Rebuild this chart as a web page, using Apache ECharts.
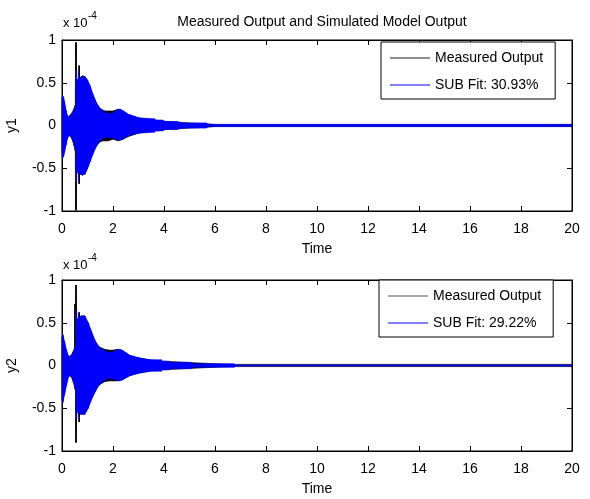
<!DOCTYPE html>
<html>
<head>
<meta charset="utf-8">
<script src="https://cdn.jsdelivr.net/npm/echarts@6/dist/echarts.min.js"></script>
<style>html,body{margin:0;padding:0;background:#fff;}#c{width:590px;height:499px;}</style>
</head>
<body>
<div id="c"></div>
<script>
// ---- data (values in units of 1e-4) ----
const xTicks = [0, 2, 4, 6, 8, 10, 12, 14, 16, 18, 20];
const yTicks = [-1, -0.5, 0, 0.5, 1];
const legend1 = ['Measured Output', 'SUB Fit: 30.93%'];
const legend2 = ['Measured Output', 'SUB Fit: 29.22%'];

// Plot 1: measured output envelope
const t1Meas = [0, 0.02, 0.06, 0.10, 0.15, 0.20, 0.26, 0.32, 0.40, 0.48, 0.52, 0.535, 0.56, 0.575, 0.62, 0.655, 0.665, 0.68, 0.69, 0.80, 0.90, 1.00, 1.10, 1.20, 1.30, 1.40, 1.50, 1.60, 1.70, 1.80, 1.90, 2.00, 2.10, 2.20, 2.40, 2.60, 2.80, 3.00, 3.50, 4.00, 4.50, 5.00, 5.70, 6.00, 20];
const y1MeasUp = [0.30, 0.35, 0.33, 0.26, 0.18, 0.12, 0.10, 0.12, 0.15, 0.20, 0.24, 0.97, 0.97, 0.50, 0.54, 0.55, 0.70, 0.70, 0.55, 0.58, 0.57, 0.53, 0.46, 0.37, 0.30, 0.24, 0.20, 0.18, 0.17, 0.17, 0.17, 0.17, 0.18, 0.19, 0.17, 0.13, 0.11, 0.09, 0.07, 0.05, 0.04, 0.03, 0.02, 0.012, 0.012];
const y1MeasLo = [-0.30, -0.38, -0.36, -0.30, -0.23, -0.16, -0.12, -0.12, -0.16, -0.24, -0.30, -0.99, -0.99, -0.52, -0.55, -0.56, -0.68, -0.68, -0.56, -0.58, -0.57, -0.50, -0.42, -0.34, -0.27, -0.22, -0.19, -0.18, -0.18, -0.18, -0.17, -0.16, -0.17, -0.18, -0.16, -0.13, -0.11, -0.09, -0.07, -0.05, -0.04, -0.03, -0.02, -0.012, -0.012];
// Plot 1: simulated model (SUB) envelope
const t1Sim = [0, 0.02, 0.06, 0.10, 0.15, 0.20, 0.26, 0.32, 0.40, 0.48, 0.53, 0.54, 0.565, 0.58, 0.62, 0.70, 0.80, 0.90, 1.00, 1.10, 1.20, 1.30, 1.40, 1.50, 1.60, 1.70, 1.80, 1.90, 2.00, 2.10, 2.20, 2.30, 2.40, 2.50, 2.60, 2.70, 2.80, 3.00, 3.20, 3.63, 3.64, 3.96, 3.97, 4.55, 4.56, 5.66, 5.67, 20];
const y1SimUp = [0.30, 0.35, 0.33, 0.26, 0.18, 0.12, 0.10, 0.12, 0.15, 0.20, 0.24, 0.64, 0.64, 0.50, 0.54, 0.56, 0.58, 0.57, 0.53, 0.46, 0.37, 0.29, 0.23, 0.19, 0.17, 0.15, 0.14, 0.14, 0.15, 0.17, 0.19, 0.19, 0.17, 0.15, 0.13, 0.12, 0.11, 0.09, 0.085, 0.078, 0.064, 0.064, 0.047, 0.047, 0.03, 0.03, 0.013, 0.013];
const y1SimLo = [-0.30, -0.38, -0.36, -0.30, -0.23, -0.16, -0.12, -0.12, -0.16, -0.24, -0.30, -0.66, -0.66, -0.50, -0.55, -0.57, -0.58, -0.56, -0.50, -0.42, -0.34, -0.27, -0.21, -0.17, -0.15, -0.14, -0.14, -0.14, -0.15, -0.16, -0.17, -0.17, -0.15, -0.13, -0.12, -0.11, -0.10, -0.09, -0.085, -0.078, -0.064, -0.064, -0.047, -0.047, -0.03, -0.03, -0.013, -0.013];

// Plot 2: measured output envelope
const t2Meas = [0, 0.03, 0.10, 0.17, 0.26, 0.37, 0.45, 0.49, 0.50, 0.51, 0.53, 0.54, 0.56, 0.575, 0.63, 0.655, 0.665, 0.68, 0.69, 0.75, 0.89, 1.02, 1.15, 1.28, 1.45, 1.67, 1.85, 2.00, 2.20, 2.35, 2.65, 3.00, 3.44, 4.00, 5.00, 6.00, 6.75, 20];
const y2MeasUp = [0.33, 0.36, 0.27, 0.18, 0.10, 0.12, 0.17, 0.20, 0.72, 0.22, 0.25, 0.94, 0.94, 0.50, 0.55, 0.55, 0.62, 0.62, 0.56, 0.58, 0.58, 0.50, 0.40, 0.30, 0.22, 0.19, 0.18, 0.18, 0.19, 0.18, 0.12, 0.09, 0.067, 0.05, 0.035, 0.02, 0.013, 0.013];
const y2MeasLo = [-0.40, -0.43, -0.33, -0.23, -0.12, -0.13, -0.20, -0.24, -0.26, -0.27, -0.30, -0.90, -0.90, -0.52, -0.55, -0.56, -0.66, -0.66, -0.56, -0.57, -0.57, -0.50, -0.40, -0.32, -0.23, -0.19, -0.18, -0.18, -0.18, -0.17, -0.12, -0.09, -0.067, -0.05, -0.035, -0.02, -0.013, -0.013];
// Plot 2: simulated model (SUB) envelope
const t2Sim = [0, 0.03, 0.10, 0.17, 0.26, 0.37, 0.45, 0.50, 0.53, 0.54, 0.57, 0.58, 0.63, 0.75, 0.89, 1.02, 1.15, 1.28, 1.45, 1.67, 1.85, 2.00, 2.20, 2.35, 2.65, 3.00, 3.44, 3.90, 3.91, 4.20, 4.21, 5.05, 5.06, 6.75, 6.76, 20];
const y2SimUp = [0.33, 0.36, 0.27, 0.18, 0.10, 0.12, 0.17, 0.21, 0.25, 0.64, 0.64, 0.50, 0.55, 0.58, 0.58, 0.50, 0.40, 0.29, 0.21, 0.17, 0.15, 0.16, 0.19, 0.18, 0.12, 0.09, 0.067, 0.067, 0.05, 0.05, 0.037, 0.037, 0.02, 0.02, 0.006, 0.006];
const y2SimLo = [-0.40, -0.43, -0.33, -0.23, -0.12, -0.13, -0.20, -0.25, -0.30, -0.62, -0.62, -0.50, -0.55, -0.57, -0.57, -0.50, -0.40, -0.31, -0.22, -0.17, -0.15, -0.16, -0.18, -0.17, -0.12, -0.09, -0.067, -0.067, -0.05, -0.05, -0.037, -0.037, -0.02, -0.02, -0.006, -0.006];

// ---- chart ----
const FONT = "'Liberation Sans', Arial, sans-serif";
const BLACK = '#000000';
const BLUE = '#0000ff';

// envelope band drawn as a filled custom series (segment by segment, through the axis scales)
function band(name, t, lo, up, color, xi, yi) {
  const rows = t.map((x, i) => [x, lo[i], up[i]]);
  return {
    type: 'custom', name: name, xAxisIndex: xi, yAxisIndex: yi, silent: true, animation: false,
    itemStyle: { color: color },
    encode: { x: 0, y: [1, 2] },
    data: rows,
    renderItem: function (params, api) {
      const i = params.dataIndex;
      if (i >= rows.length - 1) return null;
      const a = rows[i], b = rows[i + 1];
      const pts = [
        api.coord([a[0], a[2]]), api.coord([b[0], b[2]]),
        api.coord([b[0], b[1]]), api.coord([a[0], a[1]])
      ];
      return { type: 'polygon', shape: { points: pts },
        style: { fill: color, stroke: color, lineWidth: 0.6 } };
    }
  };
}

function xAxes(g) {
  const common = { type: 'value', gridIndex: g, min: 0, max: 20, interval: 2, splitLine: { show: false },
    axisLine: { onZero: false, lineStyle: { color: BLACK, width: 1 } },
    axisTick: { inside: true, length: 5, lineStyle: { color: BLACK } } };
  return [
    Object.assign({}, common, { position: 'bottom',
      axisLabel: { color: BLACK, fontSize: 14, fontFamily: FONT, margin: 11 },
      name: 'Time', nameLocation: 'middle', nameGap: 31,
      nameTextStyle: { color: BLACK, fontSize: 14, fontFamily: FONT } }),
    Object.assign({}, common, { position: 'top', axisLabel: { show: false } })
  ];
}
function yAxes(g, label) {
  const common = { type: 'value', gridIndex: g, min: -1, max: 1, interval: 0.5, splitLine: { show: false },
    axisLine: { onZero: false, lineStyle: { color: BLACK, width: 1 } },
    axisTick: { inside: true, length: 5, lineStyle: { color: BLACK } } };
  return [
    Object.assign({}, common, { position: 'left',
      axisLabel: { color: BLACK, fontSize: 14, fontFamily: FONT, margin: 6 },
      name: label, nameLocation: 'middle', nameGap: 43,
      nameTextStyle: { color: BLACK, fontSize: 14, fontFamily: FONT } }),
    Object.assign({}, common, { position: 'right', axisLabel: { show: false } })
  ];
}

function legendCfg(names, left, top, mColor) {
  return {
    orient: 'vertical', left: left, top: top, padding: [9, 12, 7, 9], itemGap: 13,
    itemWidth: 40, itemHeight: 1, borderColor: BLACK, borderWidth: 1, backgroundColor: '#fff',
    borderRadius: 0, selectedMode: false,
    textStyle: { color: BLACK, fontSize: 14, fontFamily: FONT },
    data: [{ name: names[0], icon: 'rect', itemStyle: { color: mColor } }, { name: names[1], icon: 'rect' }]
  };
}

const chart = echarts.init(document.getElementById('c'), null, { renderer: 'canvas' });
chart.setOption({
  animation: false,
  backgroundColor: '#fff',
  textStyle: { fontFamily: FONT },
  title: { text: 'Measured Output and Simulated Model Output', left: 317, top: 10, textAlign: 'center',
    textStyle: { color: BLACK, fontSize: 14, fontWeight: 'normal', fontFamily: FONT } },
  grid: [
    { left: 62, top: 40, width: 510, height: 171, show: true, borderColor: BLACK, borderWidth: 1,
      backgroundColor: '#fff', containLabel: false, outerBoundsMode: 'none' },
    { left: 62, top: 280, width: 510, height: 171, show: true, borderColor: BLACK, borderWidth: 1,
      backgroundColor: '#fff', containLabel: false, outerBoundsMode: 'none' }
  ],
  xAxis: [].concat(xAxes(0), xAxes(1)),
  yAxis: [].concat(yAxes(0, 'y1'), yAxes(1, 'y2')),
  legend: [legendCfg(legend1, 381, 42, '#222'), legendCfg(legend2, 379, 280, '#555')],
  graphic: [
    { type: 'text', left: 63, top: 17, style: { text: 'x 10', fill: BLACK, fontSize: 13, fontFamily: FONT } },
    { type: 'text', left: 88, top: 11, style: { text: '-4', fill: BLACK, fontSize: 10, fontFamily: FONT } },
    { type: 'text', left: 63, top: 259, style: { text: 'x 10', fill: BLACK, fontSize: 13, fontFamily: FONT } },
    { type: 'text', left: 88, top: 253, style: { text: '-4', fill: BLACK, fontSize: 10, fontFamily: FONT } }
  ],
  series: [
    band('Measured Output', t1Meas, y1MeasLo, y1MeasUp, BLACK, 0, 0),
    band('SUB Fit: 30.93%', t1Sim, y1SimLo, y1SimUp, BLUE, 0, 0),
    band('Measured Output', t2Meas, y2MeasLo, y2MeasUp, BLACK, 2, 2),
    band('SUB Fit: 29.22%', t2Sim, y2SimLo, y2SimUp, BLUE, 2, 2)
  ]
});
</script>
</body>
</html>
